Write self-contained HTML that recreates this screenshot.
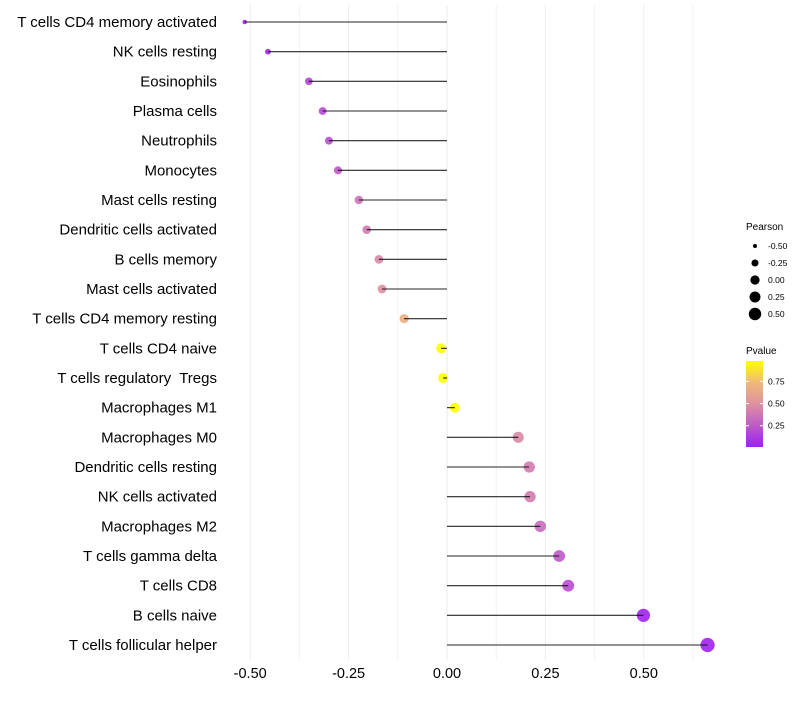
<!DOCTYPE html>
<html><head><meta charset="utf-8"><style>
body{margin:0;background:#fff;font-family:"Liberation Sans",sans-serif}
svg text{font-family:"Liberation Sans",sans-serif;white-space:pre}
</style></head><body>
<svg id="chart" width="800" height="700"></svg>
<script>
const categories=["T cells CD4 memory activated","NK cells resting","Eosinophils","Plasma cells","Neutrophils","Monocytes","Mast cells resting","Dendritic cells activated","B cells memory","Mast cells activated","T cells CD4 memory resting","T cells CD4 naive","T cells regulatory  Tregs","Macrophages M1","Macrophages M0","Dendritic cells resting","NK cells activated","Macrophages M2","T cells gamma delta","T cells CD8","B cells naive","T cells follicular helper"];
const pearson=[-0.514,-0.455,-0.351,-0.316,-0.300,-0.277,-0.224,-0.204,-0.173,-0.165,-0.109,-0.015,-0.010,0.020,0.181,0.209,0.211,0.237,0.285,0.308,0.499,0.662];
const pvalue=[0.02,0.04,0.15,0.18,0.2,0.25,0.36,0.4,0.46,0.49,0.68,0.97,0.98,0.96,0.46,0.4,0.4,0.33,0.25,0.2,0.01,0.01];
const xTicks=[-0.5,-0.25,0,0.25,0.5];
const xTickLabels=["-0.50","-0.25","0.00","0.25","0.50"];
const sizeLegend=[-0.5,-0.25,0,0.25,0.5];
const sizeLegendLabels=["-0.50","-0.25","0.00","0.25","0.50"];
const colorLegend=[0.25,0.5,0.75];

const NS="http://www.w3.org/2000/svg";
const svg=document.getElementById('chart');
function mk(t,a,p){const e=document.createElementNS(NS,t);for(const k in a)e.setAttribute(k,a[k]);(p||svg).appendChild(e);return e;}
const x=v=>447+v*393.6;
const y=i=>22+i*(623/21);
const rad=v=>v<-0.4?Math.max(2,3.6+(v+0.4)*12):4.95+3.3*v;
const lrad=v=>Math.sqrt(Math.max(2,23.6+38.5*v));
function lerp(a,b,t){return a.map((c,i)=>Math.round(c+(b[i]-c)*t));}
function color(p){const s=[[0,[160,32,240]],[0.5,[222,145,160]],[0.75,[240,185,120]],[0.95,[255,255,0]],[1,[255,255,0]]];
 for(let i=1;i<s.length;i++){if(p<=s[i][0]){const t=(p-s[i-1][0])/(s[i][0]-s[i-1][0]);const c=lerp(s[i-1][1],s[i][1],t);return `rgb(${c})`;}}return 'rgb(255,255,0)';}

const grid=mk('g',{});


for(let v=-0.5;v<=0.626;v+=0.125){mk('line',{x1:x(v),x2:x(v),y1:5,y2:660,stroke:Math.abs(v*4-Math.round(v*4))<1e-6?'#ebebeb':'#f3f3f3','stroke-width':1},grid);}

xTicks.forEach((v,i)=>{const t=mk('text',{x:x(v),y:678,'text-anchor':'middle','font-size':14.5,fill:'#000'});t.textContent=xTickLabels[i];

});

categories.forEach((c,i)=>{
 const t=mk('text',{x:217,y:y(i)+5,'text-anchor':'end','font-size':15,fill:'#000'});t.textContent=c;
 
 
 const pt=mk('circle',{cx:x(pearson[i]),cy:y(i),r:rad(pearson[i]),fill:color(pvalue[i]),'fill-opacity':0.9});
 
 
 const ln=mk('line',{x1:x(0),x2:x(pearson[i]),y1:y(i),y2:y(i),stroke:'#000','stroke-width':1.1,'stroke-opacity':0.85});
 
 
});

const lg=mk('g',{});


mk('text',{x:746,y:230,'font-size':10}, lg).textContent='Pearson';
sizeLegend.forEach((v,i)=>{const cy=246+i*17;
 const c=mk('circle',{cx:755,cy:cy,r:lrad(v)*0.95,fill:'#000'},lg);
 
 
 mk('text',{x:768,y:cy+3,'font-size':8.5},lg).textContent=sizeLegendLabels[i];});
mk('text',{x:746,y:354,'font-size':10},lg).textContent='Pvalue';
const defs=mk('defs',{});
const gr=mk('linearGradient',{id:'pg',x1:0,y1:1,x2:0,y2:0},defs);
[[0,0],[0.25,0.25],[0.5,0.5],[0.75,0.75],[1,1]].forEach(s=>mk('stop',{offset:s[0],'stop-color':color(s[1])},gr));
const bar=mk('rect',{x:746,y:361,width:17,height:86,fill:'url(#pg)'},lg);


const py=p=>447-(p-0.01)/0.97*86;
colorLegend.forEach(v=>{mk('line',{x1:746,x2:749,y1:py(v),y2:py(v),stroke:'#fff'},lg);mk('line',{x1:760,x2:763,y1:py(v),y2:py(v),stroke:'#fff'},lg);
 mk('text',{x:768,y:py(v)+3,'font-size':8.5},lg).textContent=v.toFixed(2);});
</script>
</body></html>
